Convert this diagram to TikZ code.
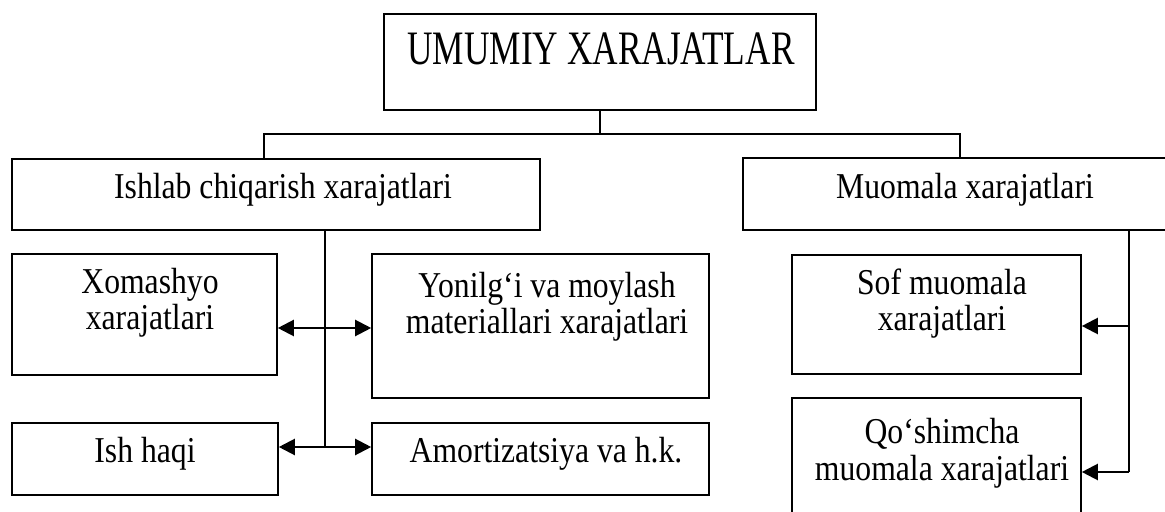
\documentclass[tikz,border=0pt]{standalone}
\usepackage{fontspec}
\setmainfont[FakeStretch=0.87]{Liberation Serif}
\newfontfamily\titlefont[FakeStretch=0.735]{Liberation Serif}
\usetikzlibrary{arrows.meta}

\begin{document}
\begin{tikzpicture}[x=0.5pt, y=-0.5pt,
    >={Triangle[length=8pt,width=8pt]},
    box/.style={draw=black, line width=0.8pt, inner sep=0pt},
    txt/.style={inner sep=0pt, anchor=base, align=center, font=\fontsize{18.2}{18}\selectfont},
    link/.style={draw=black, line width=0.6pt},
    arr/.style={draw=black, line width=1.1pt}]
    \useasboundingbox (0,0) rectangle (1165,512);

    % boxes
    \node[box, minimum width=216pt, minimum height=48pt] (top) at (600,62) {};
    \node[box, minimum width=264pt, minimum height=35.5pt] (ishlab) at (276,194.5) {};
    \node[box, minimum width=218.5pt, minimum height=36pt] (muomala) at (961.5,194) {};
    \node[box, minimum width=132.5pt, minimum height=60.5pt] (xom) at (144.5,314.5) {};
    \node[box, minimum width=168.5pt, minimum height=72pt] (yon) at (540.5,326) {};
    \node[box, minimum width=133pt, minimum height=36pt] (ish) at (145,459) {};
    \node[box, minimum width=168.5pt, minimum height=36pt] (amort) at (540.5,459) {};
    \node[box, minimum width=144.5pt, minimum height=59.5pt] (sof) at (936.5,314.5) {};
    \node[box, minimum width=144.5pt, minimum height=66pt] (qosh) at (936.5,464) {};

    % texts (two-line ones sit on their last baseline)
    \node[txt, font=\titlefont\fontsize{24}{27}\selectfont] (ttop) at (601,65) {UMUMIY XARAJATLAR};
    \node[txt] (tishlab) at (283,199) {Ishlab chiqarish xarajatlari};
    \node[txt] (tmuomala) at (965,199) {Muomala xarajatlari};
    \node[txt] (txom) at (150,330) {Xomashyo\\xarajatlari};
    \node[txt] (tyon) at (547,334) {Yonilg‘i va moylash\\materiallari xarajatlari};
    \node[txt] (tish) at (145,462) {Ish haqi};
    \node[txt] (tamort) at (546,462) {Amortizatsiya va h.k.};
    \node[txt] (tsof) at (942,331) {Sof muomala\\xarajatlari};
    \node[txt] (tqosh) at (942,480) {Qo‘shimcha\\muomala xarajatlari};

    % bus from the top box
    \coordinate (busL) at (264,134);
    \coordinate (busR) at (960,134);
    \draw[link] (top.south) -- (top.south |- busL);
    \draw[link] (ishlab.north -| busL) -- (busL) -- (busR) -- (muomala.north -| busR);

    % left trunk
    \coordinate (j1) at (325,328);
    \coordinate (j2) at (325,447);
    \draw[link] (ishlab.south -| j1) -- (j2);
    \draw[arr, <->] (xom.east |- j1) -- (yon.west |- j1);
    \draw[arr, <->] (ish.east |- j2) -- (amort.west |- j2);

    % right trunk
    \coordinate (k1) at (1129,326);
    \coordinate (k2) at (1129,472);
    \draw[link] (muomala.south -| k1) -- (k2);
    \draw[arr, ->] (k1) -- (sof.east |- k1);
    \draw[arr, ->] (k2) -- (qosh.east |- k2);
\end{tikzpicture}
\end{document}
